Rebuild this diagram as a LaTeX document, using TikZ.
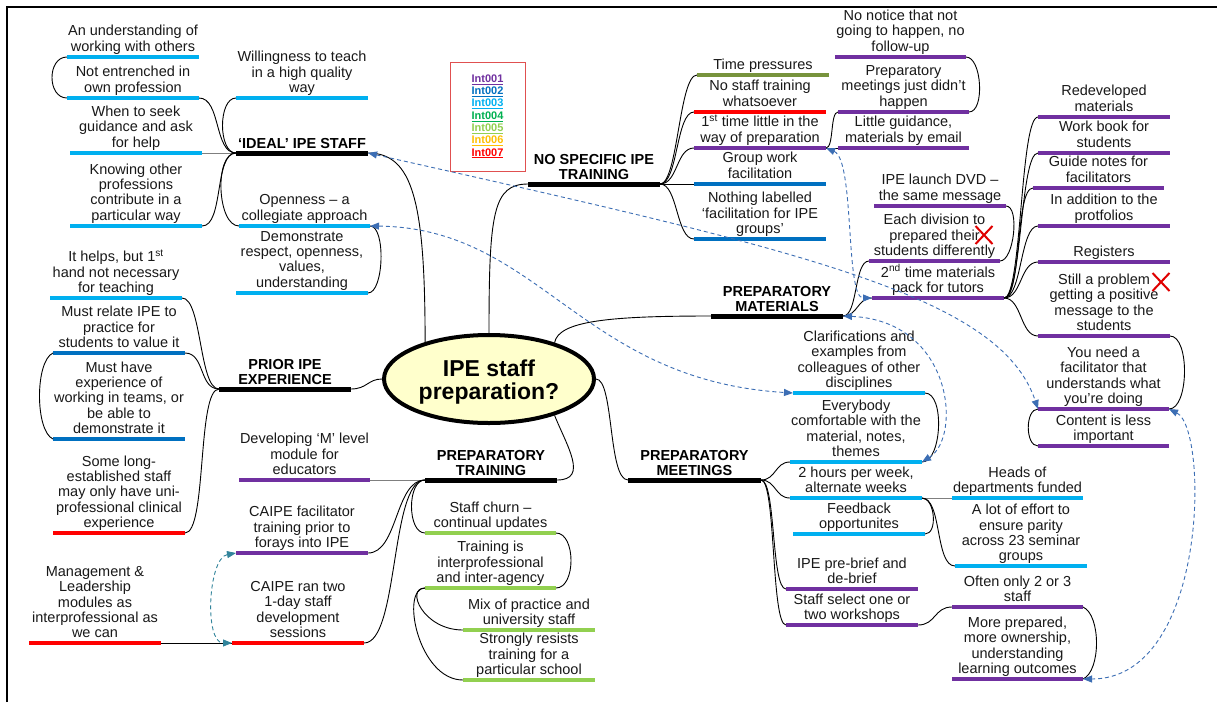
\documentclass[tikz,border=0pt]{standalone}
\usepackage{fontspec}
\setmainfont{Liberation Sans}
\usetikzlibrary{arrows.meta,shapes.geometric,shapes.misc}

\definecolor{cyanul}{HTML}{00B0F0}
\definecolor{blueul}{HTML}{0070C0}
\definecolor{purpleul}{HTML}{7030A0}
\definecolor{oliveul}{HTML}{77933C}
\definecolor{redul}{HTML}{FF0000}
\definecolor{greenul}{HTML}{92D050}
\definecolor{intgreen}{HTML}{00B050}
\definecolor{intamber}{HTML}{FFC000}
\definecolor{dashblue}{HTML}{3C6EB4}
\definecolor{dashteal}{HTML}{31849B}
\definecolor{hubfill}{HTML}{FFFFCC}
\definecolor{linkgray}{HTML}{7F7F7F}
\definecolor{boxred}{HTML}{E05050}
\definecolor{crossred}{HTML}{E00000}

\tikzset{
  leafline/.style={line width=3.6pt},
  topicline/.style={line width=5pt, draw=black},
  leaftext/.style={anchor=base, inner sep=0pt, font=\fontsize{14.5}{15}\selectfont, text=black!90},
  topictext/.style={anchor=base, inner sep=0pt, font=\fontsize{14.5}{15}\selectfont\bfseries},
  link/.style={line width=0.9pt, draw=black},
  straight/.style={line width=1pt, draw=linkgray},
  xref/.style={dash pattern=on 4pt off 3pt, line width=0.9pt, draw=dashblue,
    arrows={Triangle[length=9pt,width=7pt]-Triangle[length=9pt,width=7pt]}},
  crossmark/.style={cross out, draw=crossred, line width=2pt, inner sep=0pt, minimum width=15pt, minimum height=16pt},
}

% a leaf: name, left x, right x, underline y, colour, text
\newcommand{\mmleaf}[6]{%
  \coordinate (#1-l) at (#2,#4);
  \coordinate (#1-r) at (#3,#4);
  \draw[leafline, draw=#5] (#1-l) -- (#1-r);
  \node[leaftext] (#1) at ({(#2+#3)/2},{#4-6}) {\begin{tabular}[b]{@{}c@{}}#6\end{tabular}};
}
% a main topic: name, left x, right x, underline y, text
\newcommand{\mmtopic}[5]{%
  \coordinate (#1-l) at (#2,#4);
  \coordinate (#1-r) at (#3,#4);
  \draw[topicline] (#1-l) -- (#1-r);
  \node[topictext] (#1) at ({(#2+#3)/2},{#4-5}) {\begin{tabular}[b]{@{}c@{}}#5\end{tabular}};
}

\begin{document}
\begin{tikzpicture}[x=1pt,y=-1pt]
\useasboundingbox (0,0) rectangle (1217,702);
\fill[white] (0,0) rectangle (1217,702);
\draw[line width=2.2pt] (7,702) -- (7,7) -- (1217,7);

% central topic
\node[ellipse, draw=black, line width=4pt, fill=hubfill, minimum width=210pt, minimum height=88pt] (hub) at (489,379) {};
\node[font=\fontsize{23}{23}\selectfont\bfseries, align=center, inner sep=0pt] (hubtext) at (489,382) {IPE staff\\preparation?};

% legend
\node[draw=boxred, line width=0.8pt, minimum width=75pt, minimum height=109pt, inner sep=0pt, align=center,
      font=\fontsize{11}{12.3}\selectfont\bfseries] (legend) at (487.5,116.5)
  {\textcolor{purpleul}{\underline{Int001}}\\
   \textcolor{blueul}{\underline{Int002}}\\
   \textcolor{cyanul}{\underline{Int003}}\\
   \textcolor{intgreen}{\underline{Int004}}\\
   \textcolor{greenul}{\underline{Int005}}\\
   \textcolor{intamber}{\underline{Int006}}\\
   \textcolor{redul}{\underline{Int007}}};

% main topics
\mmtopic{ideal}{236}{368}{153}{‘IDEAL’ IPE STAFF}
\mmtopic{nospec}{528}{660}{184}{NO SPECIFIC IPE\\TRAINING}
\mmtopic{prior}{219}{351}{389}{PRIOR IPE\\EXPERIENCE}
\mmtopic{pmat}{711}{843}{316}{PREPARATORY\\MATERIALS}
\mmtopic{ptrain}{425}{557}{480}{PREPARATORY\\TRAINING}
\mmtopic{pmeet}{628}{761}{480}{PREPARATORY\\MEETINGS}

% ideal staff
\mmleaf{und}{67}{199}{57}{cyanul}{An understanding of\\working with others}
\mmleaf{ent}{67}{199}{98}{cyanul}{Not entrenched in\\own profession}
\mmleaf{will}{236}{368}{98}{cyanul}{Willingness to teach\\in a high quality\\way}
\mmleaf{seek}{70}{202}{153}{cyanul}{When to seek\\guidance and ask\\for help}
\mmleaf{know}{70}{202}{226}{cyanul}{Knowing other\\professions\\contribute in a\\particular way}
\mmleaf{open}{239}{370}{226}{cyanul}{Openness – a\\collegiate approach}
\mmleaf{demo}{236}{368}{293}{cyanul}{Demonstrate\\respect, openness,\\values,\\understanding}

% prior experience
\mmleaf{helps}{50}{182}{298}{cyanul}{It helps, but 1\textsuperscript{st}\\hand not necessary\\for teaching}
\mmleaf{relate}{53}{185}{353}{blueul}{Must relate IPE to\\practice for\\students to value it}
\mmleaf{teams}{53}{185}{439}{blueul}{Must have\\experience of\\working in teams, or\\be able to\\demonstrate it}
\mmleaf{long}{53}{185}{533}{redul}{Some long-\\established staff\\may only have uni-\\professional clinical\\experience}

% preparatory training
\mmleaf{devm}{239}{370}{480}{purpleul}{Developing ‘M’ level\\module for\\educators}
\mmleaf{caipef}{236}{368}{553}{purpleul}{CAIPE facilitator\\training prior to\\forays into IPE}
\mmleaf{mgmt}{29}{161}{643}{redul}{Management \&\\Leadership\\modules as\\interprofessional as\\we can}
\mmleaf{caiper}{232}{364}{643}{redul}{CAIPE ran two\\1-day staff\\development\\sessions}
\mmleaf{churn}{425}{556}{533}{greenul}{Staff churn –\\continual updates}
\mmleaf{interag}{425}{556}{588}{greenul}{Training is\\interprofessional\\and inter-agency}
\mmleaf{mix}{463}{595}{630}{greenul}{Mix of practice and\\university staff}
\mmleaf{resist}{463}{595}{680}{greenul}{Strongly resists\\training for a\\particular school}

% no specific training
\mmleaf{time}{697}{829}{75}{oliveul}{Time pressures}
\mmleaf{nost}{694}{826}{112}{redul}{No staff training\\whatsoever}
\mmleaf{first}{694}{826}{148}{purpleul}{1\textsuperscript{st} time little in the\\way of preparation}
\mmleaf{group}{694}{826}{184}{blueul}{Group work\\facilitation}
\mmleaf{nothing}{694}{826}{239}{blueul}{Nothing labelled\\‘facilitation for IPE\\groups’}
\mmleaf{notice}{835}{966}{57}{purpleul}{No notice that not\\going to happen, no\\follow-up}
\mmleaf{prepm}{838}{969}{112}{purpleul}{Preparatory\\meetings just didn’t\\happen}
\mmleaf{little}{838}{969}{148}{purpleul}{Little guidance,\\materials by email}

% preparatory materials
\mmleaf{dvd}{874}{1006}{206}{purpleul}{IPE launch DVD –\\the same message}
\mmleaf{div}{869}{1000}{261}{purpleul}{Each division to\\prepared their\\students differently}
\mmleaf{second}{872}{1004}{298}{purpleul}{2\textsuperscript{nd} time materials\\pack for tutors}
\mmleaf{redev}{1038}{1170}{117}{purpleul}{Redeveloped\\materials}
\mmleaf{wbook}{1038}{1170}{153}{purpleul}{Work book for\\students}
\mmleaf{guide}{1033}{1164}{188}{purpleul}{Guide notes for\\facilitators}
\mmleaf{addn}{1038}{1170}{226}{purpleul}{In addition to the\\protfolios}
\mmleaf{reg}{1038}{1170}{262}{purpleul}{Registers}
\mmleaf{still}{1038}{1170}{336}{purpleul}{Still a problem\\getting a positive\\message to the\\students}
\mmleaf{need}{1038}{1169}{409}{purpleul}{You need a\\facilitator that\\understands what\\you’re doing}
\mmleaf{content}{1038}{1169}{446}{purpleul}{Content is less\\important}
\node[crossmark] (crossdiv) at (984,235) {};
\node[crossmark] (crossstill) at (1161,282) {};

% preparatory meetings
\mmleaf{clar}{793}{925}{393}{cyanul}{Clarifications and\\examples from\\colleagues of other\\disciplines}
\mmleaf{every}{790}{922}{462}{cyanul}{Everybody\\comfortable with the\\material, notes,\\themes}
\mmleaf{twoh}{790}{922}{498}{cyanul}{2 hours per week,\\alternate weeks}
\mmleaf{feed}{793}{925}{534}{cyanul}{Feedback\\opportunites}
\mmleaf{heads}{952}{1083}{498}{cyanul}{Heads of\\departments funded}
\mmleaf{effort}{955}{1087}{566}{cyanul}{A lot of effort to\\ensure parity\\across 23 seminar\\groups}
\mmleaf{brief}{786}{918}{589}{purpleul}{IPE pre-brief and\\de-brief}
\mmleaf{select}{786}{918}{625}{purpleul}{Staff select one or\\two workshops}
\mmleaf{often}{952}{1083}{607}{purpleul}{Often only 2 or 3\\staff}
\mmleaf{owner}{952}{1083}{679}{purpleul}{More prepared,\\more ownership,\\understanding\\learning outcomes}

% --- branches of the ideal staff topic
\draw[link] (ideal-r) .. controls +(45,0) and +(0,-140) .. (hub.150);
\draw[link] (ideal-l) .. controls +(-22,0) and +(22,0) .. (ent-r);
\draw[link] (ideal-l) .. controls +(-18,0) and +(-18,0) .. (will-l);
\draw[straight] (ideal-l) -- (seek-r);
\draw[link] (ideal-l) .. controls +(-22,0) and +(22,0) .. (know-r);
\draw[link] (ideal-l) .. controls +(-22,0) and +(-22,0) .. (open-l);
\draw[link] (und-l) .. controls +(-20,0) and +(-20,0) .. (ent-l);
\draw[link] (demo-r) .. controls +(16,0) and +(16,0) .. (open-r);

% --- prior experience
\draw[link] (prior-r) .. controls +(16,0) and +(-14,0) .. (hub.west);
\draw[link] (prior-l) .. controls +(-20,0) and +(20,0) .. (helps-r);
\draw[link] (prior-l) .. controls +(-20,0) and +(20,0) .. (relate-r);
\draw[link] (prior-l) .. controls +(-22,0) and +(22,0) .. (long-r);
\draw[link] (relate-l) .. controls +(-18,8) and +(-18,-8) .. (teams-l);

% --- no specific training
\draw[link] (nospec-l) .. controls +(-35,0) and +(0,-120) .. (hub.north);
\foreach \t in {time,nost,first,nothing}
  \draw[link] (nospec-r) .. controls +(18,0) and +(-18,0) .. (\t-l);
\draw[link] (nospec-r) -- (group-l);
\draw[link] (notice-r) .. controls +(16,0) and +(16,0) .. (prepm-r);
\draw[link] (first-r) .. controls +(8,0) and +(-8,0) .. (prepm-l);
\draw[link] (first-r) -- (little-l);

% --- preparatory materials
\draw[link] (hub.29) .. controls +(4,-22) and +(-100,0) .. (pmat-l);
\draw[link] (pmat-r) .. controls +(15,0) and +(-15,0) .. (div-l);
\draw[link] (pmat-r) .. controls +(15,0) and +(-15,0) .. (second-l);
\draw[link] (dvd-r) .. controls +(14,0) and +(14,0) .. (div-r);
\foreach \t in {redev,wbook,guide,addn,reg,still}
  \draw[link] (second-r) .. controls +(18,0) and +(-18,0) .. (\t-l);
\draw[link] (still-r) .. controls +(20,0) and +(20,0) .. (need-r);
\draw[link] (need-l) .. controls +(-13,0) and +(-13,0) .. (content-l);

% --- preparatory meetings
\draw[link] (hub.east) .. controls +(18,0) and +(-20,0) .. (pmeet-l);
\foreach \t in {every,twoh,brief,select}
  \draw[link] (pmeet-r) .. controls +(15,0) and +(-15,0) .. (\t-l);
\draw[link] (clar-r) .. controls +(20,0) and +(20,0) .. (every-r);
\draw[straight] (twoh-r) -- (heads-l);
\draw[link] (twoh-r) .. controls +(13,0) and +(13,0) .. (feed-r);
\draw[link] (twoh-r) .. controls +(20,0) and +(-20,0) .. (effort-l);
\draw[link] (select-r) .. controls +(18,0) and +(-18,0) .. (often-l);
\draw[link] (often-r) .. controls +(18,8) and +(18,-8) .. (owner-r);

% --- preparatory training
\draw[link] (hub.-29) .. controls +(12,30) and +(32,0) .. (ptrain-r);
\draw[straight] (ptrain-l) -- (devm-r);
\draw[link] (ptrain-l) .. controls +(-18,0) and +(-18,0) .. (churn-l);
\draw[link] (ptrain-l) .. controls +(-30,0) and +(30,0) .. (caipef-r);
\draw[link] (ptrain-l) .. controls +(-35,0) and +(35,0) .. (caiper-r);
\draw[link] (churn-r) .. controls +(20,0) and +(20,0) .. (interag-r);
\draw[link] (interag-l) .. controls +(-20,0) and +(-40,0) .. (mix-l);
\draw[link] (interag-l) .. controls +(-25,0) and +(-45,0) .. (resist-l);
\draw[link] (mgmt-r) -- (caiper-l);

% --- cross references
\draw[xref] (ideal-r) .. controls +(432,97) and +(-38,-114) .. (need-l);
\draw[xref] (open-r) .. controls +(170,2) and +(-213,-13) .. (clar-l);
\draw[xref] (first-r) .. controls +(29,12) and +(-27,0) .. (second-l);
\draw[xref] (pmat-r) .. controls +(110,5) and +(40,-25) .. (every-r);
\draw[xref] (need-r) .. controls +(40,20) and +(125,0) .. (owner-r);
\draw[xref, draw=dashteal] (caipef-l) .. controls +(-28,5) and +(-28,0) .. (caiper-l);
\end{tikzpicture}
\end{document}
